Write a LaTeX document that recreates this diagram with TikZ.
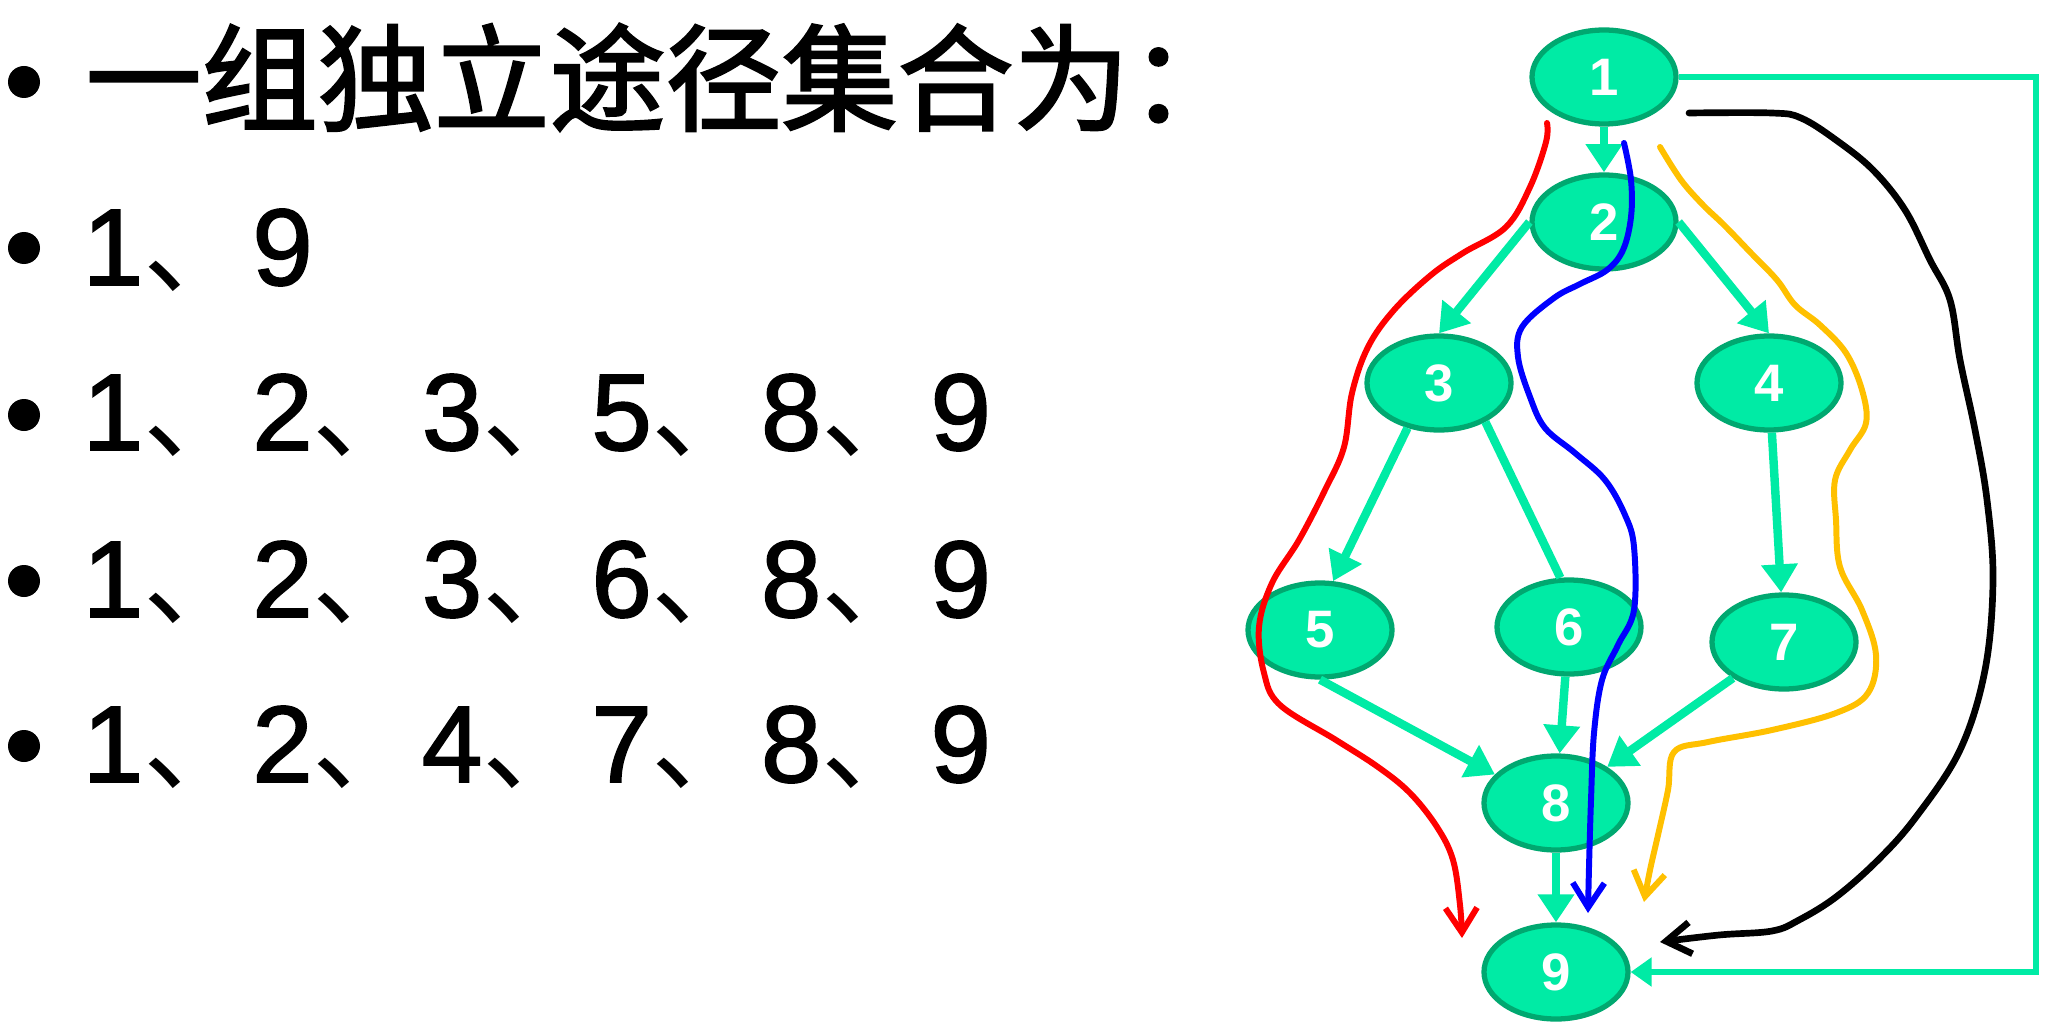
\documentclass[tikz,border=0pt]{standalone}
\usepackage{fontspec}
\setmainfont{Liberation Sans}
\newfontfamily\cjk{Noto Sans CJK SC}
\newfontfamily\cjkheavy{Noto Sans CJK SC}[FakeBold=2]
\newfontfamily\digits{Liberation Sans}[FakeBold=1.5]
\usetikzlibrary{arrows.meta,shapes.geometric,positioning}

\definecolor{nodegreen}{RGB}{0,235,165}
\definecolor{rimgreen}{RGB}{0,168,112}
\definecolor{pathorange}{RGB}{255,192,0}

\newcommand{\dun}{{\cjk 、}}

\tikzset{
  vertex/.style={ellipse, draw=rimgreen, fill=nodegreen, line width=1.5pt,
    minimum width=1.44cm, minimum height=0.94cm, inner sep=0pt, text=white,
    font=\fontsize{15}{15}\selectfont\bfseries},
  flow/.style={color=nodegreen, line width=2.4pt, >={Triangle[length=8pt,width=10pt]}},
  trace/.style={->, line width=1.7pt, >={Straight Barb[length=7pt,width=9pt]},
    line cap=round, line join=round},
  item/.style={anchor=base west, inner sep=0pt, font=\fontsize{31}{31}\selectfont\digits},
  dot/.style={circle, fill=black, minimum size=0.32cm, inner sep=0pt}
}

\begin{document}
\begin{tikzpicture}[node distance=1.5cm, on grid]
  \useasboundingbox (0,0) rectangle (20.70,-10.28);

  % the list of paths
  \node[dot] (b1) at (0.24,-0.82) {};
  \node[dot] (b2) at (0.24,-2.48) {};
  \node[dot] (b3) at (0.24,-4.15) {};
  \node[dot] (b4) at (0.24,-5.81) {};
  \node[dot] (b5) at (0.24,-7.46) {};
  \node[item, font=\fontsize{33}{33}\selectfont\cjkheavy] (t1) at (0.85,-1.22) {一组独立途径集合为：};
  \node[item] (t2) at (0.82,-2.85) {1\dun 9};
  \node[item] (t3) at (0.82,-4.50) {1\dun 2\dun 3\dun 5\dun 8\dun 9};
  \node[item] (t4) at (0.82,-6.17) {1\dun 2\dun 3\dun 6\dun 8\dun 9};
  \node[item] (t5) at (0.82,-7.82) {1\dun 2\dun 4\dun 7\dun 8\dun 9};

  % flow graph
  \node[vertex] (1) at (16.04,-0.77) {1};
  \node[vertex] (2) [below=1.45cm of 1] {2};
  \node[vertex] (3) [below left=1.61cm and 1.65cm of 2] {3};
  \node[vertex] (4) [below right=1.61cm and 1.65cm of 2] {4};
  \node[vertex] (5) [below left=2.47cm and 1.19cm of 3] {5};
  \node[vertex] (6) [below right=2.44cm and 1.30cm of 3] {6};
  \node[vertex] (7) [below right=2.59cm and 0.15cm of 4] {7};
  \node[vertex] (8) [below left=1.76cm and 0.13cm of 6] {8};
  \node[vertex] (9) [below=1.69cm of 8] {9};
  \coordinate (rail) at (20.36,0);

  \path[flow, ->]
    (1) edge (2)
    (2.west) edge (3.north)
    (2.east) edge (4.north)
    (3.235) edge (5.75)
    (3.-40) edge [-] (6.100)
    (4) edge (7)
    (5.south) edge (8.155)
    (6) edge (8)
    (7) edge (8)
    (8) edge (9);
  \draw[flow, ->, line width=1.6pt, >={Triangle[length=6pt,width=8pt]}]
    (1) -- (1 -| rail) |- (9);

  % hand drawn paths
  \draw[trace, red] plot[smooth, tension=0.6] coordinates {
    (15.47,-1.23) (15.46,-1.42) (15.30,-1.87) (15.06,-2.27) (14.63,-2.53)
    (14.31,-2.75) (13.94,-3.10) (13.68,-3.47) (13.52,-3.93) (13.44,-4.47)
    (13.25,-4.90) (12.99,-5.40) (12.72,-5.83) (12.59,-6.27) (12.64,-6.73)
    (12.80,-7.05) (13.36,-7.40) (13.78,-7.67) (14.10,-7.93) (14.37,-8.27)
    (14.53,-8.60) (14.60,-9.05) (14.62,-9.38)};
  \draw[trace, blue] plot[smooth, tension=0.6] coordinates {
    (16.24,-1.43) (16.31,-1.80) (16.31,-2.17) (16.23,-2.50) (16.07,-2.70)
    (15.80,-2.84) (15.54,-2.98) (15.22,-3.27) (15.18,-3.57) (15.30,-3.97)
    (15.45,-4.28) (15.75,-4.53) (16.05,-4.80) (16.25,-5.15) (16.34,-5.47)
    (16.34,-6.10) (16.18,-6.45) (16.02,-6.80) (15.94,-7.33) (15.91,-8.00)
    (15.89,-8.67) (15.88,-9.13)};
  \draw[trace, pathorange] plot[smooth, tension=0.6] coordinates {
    (16.60,-1.47) (16.81,-1.80) (17.03,-2.05) (17.24,-2.25) (17.51,-2.53)
    (17.77,-2.80) (17.95,-3.05) (18.20,-3.25) (18.46,-3.53) (18.62,-3.90)
    (18.66,-4.23) (18.50,-4.50) (18.35,-4.80) (18.36,-5.20) (18.40,-5.67)
    (18.62,-6.10) (18.76,-6.55) (18.68,-6.93) (18.36,-7.13) (17.72,-7.30)
    (17.08,-7.42) (16.74,-7.52) (16.68,-7.90) (16.58,-8.35) (16.50,-8.70)
    (16.44,-9.02)};
  \draw[trace, black, line width=1.9pt] plot[smooth, tension=0.6] coordinates {
    (16.89,-1.13) (17.72,-1.13) (18.01,-1.18) (18.36,-1.40) (18.73,-1.70)
    (19.05,-2.10) (19.30,-2.60) (19.50,-3.00) (19.60,-3.60) (19.75,-4.30)
    (19.87,-5.00) (19.93,-5.80) (19.85,-6.70) (19.60,-7.50) (19.16,-8.17)
    (18.78,-8.60) (18.36,-8.97) (17.99,-9.20) (17.72,-9.31) (17.19,-9.35)
    (16.60,-9.42)};
\end{tikzpicture}
\end{document}
